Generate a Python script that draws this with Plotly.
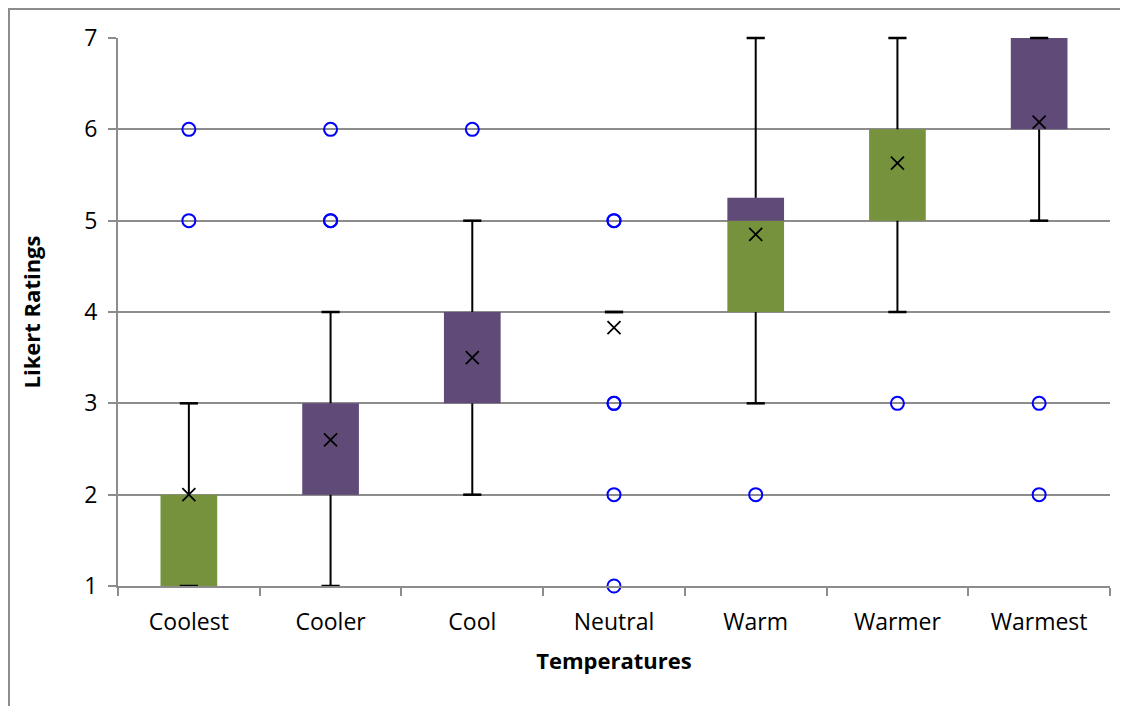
import plotly.graph_objects as go

# 箱线图数据（Likert 评分）
categories = ["Coolest", "Cooler", "Cool", "Neutral", "Warm", "Warmer", "Warmest"]
q1 = [1, 2, 3, 4, 4, 5, 6]
median = [2, 2, 3, 4, 5, 6, 6]
q3 = [2, 3, 4, 4, 5.25, 6, 7]
whisker_low = [1, 1, 2, 4, 3, 4, 5]
whisker_high = [3, 4, 5, 4, 7, 7, 7]
mean = [2.0, 2.6, 3.5, 3.83, 4.85, 5.63, 6.08]
outlier_cat = ["Coolest", "Coolest", "Cooler", "Cooler", "Cooler", "Cool",
               "Neutral", "Neutral", "Neutral", "Neutral", "Neutral", "Neutral",
               "Warm", "Warmer", "Warmest", "Warmest"]
outlier_val = [5, 6, 5, 5, 6, 6,
               1, 2, 3, 3, 5, 5,
               2, 3, 2, 3]
y_ticks = [1, 2, 3, 4, 5, 6, 7]

green = "#76923C"
purple = "#5F4A78"
grid = "#8C8C8C"
font = "Open Sans"

fig = go.Figure()

# 箱体：下半段（Q1 到中位数）和上半段（中位数到 Q3）
fig.add_trace(go.Bar(
    x=categories, y=[m - a for m, a in zip(median, q1)], base=q1,
    marker=dict(color=green, line=dict(width=0)), width=0.4
))
fig.add_trace(go.Bar(
    x=categories, y=[b - m for b, m in zip(q3, median)], base=median,
    marker=dict(color=purple, line=dict(width=0)), width=0.4
))

# 须线
wx, wy = [], []
for c, lo, a, b, hi in zip(categories, whisker_low, q1, q3, whisker_high):
    wx += [c, c, None, c, c, None]
    wy += [lo, a, None, b, hi, None]
fig.add_trace(go.Scatter(
    x=wx, y=wy, mode="lines", line=dict(color="black", width=2),
    cliponaxis=False
))
fig.add_trace(go.Scatter(
    x=categories + categories, y=whisker_low + whisker_high, mode="markers",
    marker=dict(symbol="line-ew", size=13, line=dict(color="black", width=2.5)),
    cliponaxis=False
))

# 均值
fig.add_trace(go.Scatter(
    x=categories, y=mean, mode="markers",
    marker=dict(symbol="x-thin", size=13, line=dict(color="black", width=1.8)),
    cliponaxis=False
))

# 离群点
fig.add_trace(go.Scatter(
    x=outlier_cat, y=outlier_val, mode="markers",
    marker=dict(symbol="circle-open", size=13, color="#0000FF", line=dict(width=2)),
    cliponaxis=False
))

# 页面自带 8px 边距，这里尺寸相应缩小
fig.update_layout(
    width=1120, height=698,
    margin=dict(l=110, r=18, t=30, b=120),
    paper_bgcolor="white", plot_bgcolor="white",
    barmode="overlay", showlegend=False,
    font=dict(family=font, size=23, color="black"),
    xaxis=dict(
        title=dict(text="<b>Temperatures</b>", font=dict(size=22), standoff=18),
        categoryorder="array", categoryarray=categories,
        showline=True, linecolor=grid, linewidth=2,
        ticks="outside", tickson="boundaries", ticklen=8, tickcolor=grid, tickwidth=2,
        ticklabelstandoff=14,
        showgrid=False, zeroline=False
    ),
    yaxis=dict(
        title=dict(text="<b>Likert Ratings</b>", font=dict(size=22), standoff=38),
        range=[1, 7], tickvals=y_ticks,
        showline=True, linecolor=grid, linewidth=2,
        ticks="outside", ticklen=8, tickcolor=grid, tickwidth=2,
        ticklabelstandoff=6,
        showgrid=True, gridcolor=grid, gridwidth=2, zeroline=False
    ),
    shapes=[dict(
        type="rect", xref="paper", yref="paper",
        x0=-0.1099, x1=1.03, y0=-0.24, y1=1.0529,
        line=dict(color=grid, width=2), layer="below"
    )]
)

fig.write_html("out.html")
